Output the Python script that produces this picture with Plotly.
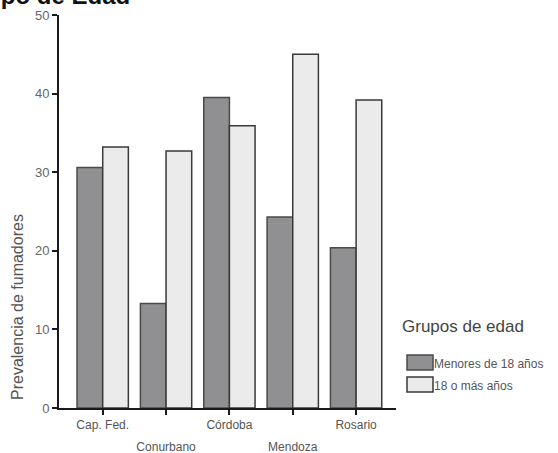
import plotly.graph_objects as go

categories = ["Cap. Fed.", "Conurbano", "Córdoba", "Mendoza", "Rosario"]
menores_18 = [30.6, 13.3, 39.5, 24.3, 20.4]
mayores_18 = [33.2, 32.7, 35.9, 45.0, 39.2]
series_names = ["Menores de 18 años", "18 o más años"]
y_ticks = [0, 10, 20, 30, 40, 50]

W, H = 558, 453
L, R, T, B = 59, 162, 15, 45
pw, ph = W - L - R, H - T - B

def px(x):
    return (x - L) / pw

def py(y):
    return (H - B - y) / ph

idx = list(range(len(categories)))
fig = go.Figure()
fig.add_trace(go.Bar(x=idx, y=menores_18, name=series_names[0],
                     marker=dict(color="#909092", line=dict(color="#4a4a4a", width=1.5)),
                     showlegend=False))
fig.add_trace(go.Bar(x=idx, y=mayores_18, name=series_names[1],
                     marker=dict(color="#ebebeb", line=dict(color="#3a3a3a", width=1.5)),
                     showlegend=False))

row1 = [c if i % 2 == 0 else "" for i, c in enumerate(categories)]
row2_vals = [i for i in idx if i % 2 == 1]
row2_text = [categories[i] for i in row2_vals]

xr = [-0.69, 4.63]
fig.update_layout(
    width=W, height=H,
    margin=dict(l=L, r=R, t=T, b=B, autoexpand=False),
    paper_bgcolor="white", plot_bgcolor="white",
    barmode="group", bargap=0.19, bargroupgap=0,
    font=dict(family="Liberation Sans, Arial, sans-serif", color="#555"),
    xaxis=dict(range=xr, tickvals=idx, ticktext=row1, showgrid=False, zeroline=False,
               showline=True, linecolor="#1a1a1a", linewidth=2, automargin=False,
               ticks="outside", ticklen=5, tickwidth=1.5, tickcolor="#1a1a1a",
               tickfont=dict(size=12, color="#555")),
    xaxis2=dict(range=xr, overlaying="x", anchor="y", side="bottom",
                tickvals=row2_vals, ticktext=row2_text, showgrid=False, zeroline=False,
                showline=False, ticks="", ticklabelstandoff=30, automargin=False,
                tickfont=dict(size=12, color="#555")),
    yaxis=dict(range=[0, 50], tickvals=y_ticks, showgrid=False, zeroline=False,
               showline=True, linecolor="#1a1a1a", linewidth=2, automargin=False,
               ticks="outside", ticklen=5, tickwidth=1.5, tickcolor="#1a1a1a",
               tickfont=dict(size=13, color="#666")),
)

# invisible helper so the second x axis is drawn
fig.add_trace(go.Scatter(x=[xr[0]], y=[0], xaxis="x2", mode="markers",
                         marker=dict(opacity=0), showlegend=False, hoverinfo="skip"))

# Title (partially cut off at top-left in reference)
fig.add_annotation(text="<b>Prevalencia de Fumadores por Grupo de Edad</b>",
                   xref="paper", yref="paper", x=px(132), y=py(11),
                   xanchor="right", yanchor="bottom", showarrow=False,
                   font=dict(size=24, color="#111"))

# Y axis title
fig.add_annotation(text="Prevalencia de fumadores", xref="paper", yref="paper",
                   x=px(17), y=py(307), textangle=-90, showarrow=False,
                   xanchor="center", yanchor="middle",
                   font=dict(size=16, color="#555"))

# Legend
fig.add_annotation(text="Grupos de edad", xref="paper", yref="paper",
                   x=px(400), y=py(326), xanchor="left", yanchor="middle",
                   showarrow=False, font=dict(size=17, color="#444"))
leg_colors = [("#909092", "#4a4a4a"), ("#ebebeb", "#3a3a3a")]
leg_y = [(355, 370), (377, 392)]
for name, (fc, lc), (y0, y1) in zip(series_names, leg_colors, leg_y):
    fig.add_shape(type="rect", xref="paper", yref="paper",
                  x0=px(407), x1=px(433), y0=py(y1), y1=py(y0),
                  fillcolor=fc, line=dict(color=lc, width=1.5))
    fig.add_annotation(text=name, xref="paper", yref="paper",
                       x=px(432), y=py((y0 + y1) / 2 + 1), xanchor="left", yanchor="middle",
                       showarrow=False, font=dict(size=12, color="#555"))

fig.write_html("out.html", config={"displayModeBar": False},
               post_script="document.body.style.margin='0';document.body.style.overflow='hidden';")
